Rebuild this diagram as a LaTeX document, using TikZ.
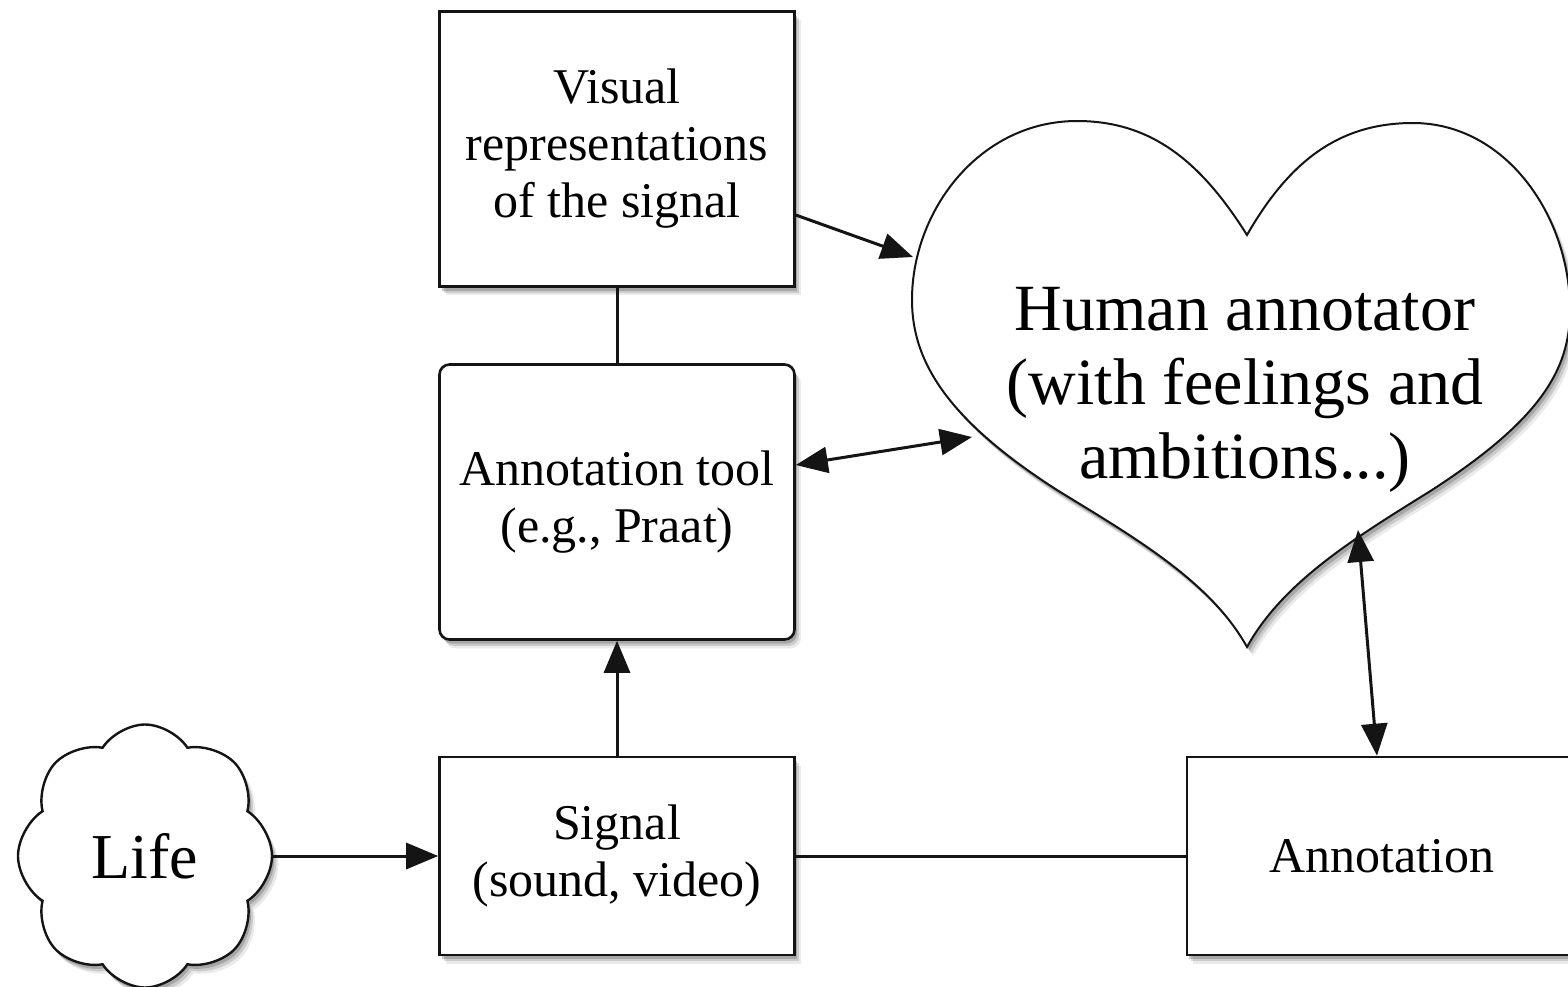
\documentclass[tikz,border=0pt]{standalone}
\usepackage{fontspec}
\setmainfont{Liberation Serif}
\usepackage{tikz}
\usetikzlibrary{shapes.symbols, arrows.meta, positioning, shadows}
\definecolor{FlowInk}{RGB}{20, 20, 20}
\definecolor{FlowShade}{RGB}{80, 80, 80}

\tikzset{
  softshadow/.style={
    drop shadow={shadow xshift=1.6pt, shadow yshift=-2.2pt, opacity=0.12, fill=FlowShade},
    drop shadow={shadow xshift=1.1pt, shadow yshift=-1.6pt, opacity=0.2, fill=FlowShade},
    drop shadow={shadow xshift=0.6pt, shadow yshift=-1pt, opacity=0.3, fill=FlowShade}},
  flowbox/.style={draw=FlowInk, fill=white, line width=0.65pt, minimum width=88.75pt,
    align=center, inner sep=2pt, softshadow, font=\fontsize{12.5}{14.25}\selectfont},
  link/.style={draw=FlowInk, line width=0.75pt},
  arrowend/.style={link, -{Triangle[length=8pt, width=6.5pt]}},
  arrowboth/.style={link, {Triangle[length=8pt, width=6.5pt]}-{Triangle[length=8pt, width=6.5pt]}}
}

\begin{document}
\begin{tikzpicture}[x=0.25pt, y=-0.25pt]
    \useasboundingbox (0,0) rectangle (1568,987);

    % heart
    \draw[draw=FlowInk, fill=white, line width=0.5pt, softshadow]
      (1247,235) .. controls (1200,160) and (1150,121) .. (1077,121)
      .. controls (980,121) and (912,210) .. (912,300)
      .. controls (912,362) and (948,420) .. (1057,490)
      .. controls (1130,535) and (1210,580) .. (1247,647)
      .. controls (1284,580) and (1360,535) .. (1432,490)
      .. controls (1540,420) and (1570,370) .. (1570,310)
      .. controls (1570,215) and (1505,123) .. (1413,123)
      .. controls (1340,123) and (1290,160) .. (1247,235) -- cycle;
    \node[align=center, font=\fontsize{16.5}{18.5}\selectfont] (human) at (1245,390)
      {Human annotator\\(with feelings and\\ambitions...)};
    \coordinate (hvis) at (913,257);
    \coordinate (htool) at (972,437);
    \coordinate (hann) at (1358,530);

    % boxes
    \node[flowbox, minimum height=68.75pt] (visual) at (617,149)
      {Visual\\representations\\of the signal};
    \node[flowbox, minimum height=68.75pt, rounded corners=2.5pt] (tool) at (617,502)
      {Annotation tool\\(e.g., Praat)};
    \node[flowbox, minimum height=49.5pt] (signal) at (617,856)
      {Signal\\(sound, video)};
    \node[flowbox, minimum height=49.5pt, minimum width=97.5pt] (annot) at (1382,856)
      {Annotation};
    \node[cloud, cloud puffs=8, cloud puff arc=115, aspect=1, draw=FlowInk, fill=white,
      line width=0.6pt, minimum width=63.5pt, minimum height=65.75pt, inner sep=0pt,
      font=\fontsize{16}{18}\selectfont, softshadow] (life) at (145,856) {Life};

    % connectors
    \draw[arrowend] ([yshift=-16.5pt]visual.east) -- (hvis);
    \draw[arrowboth] ([yshift=9.25pt]tool.east) -- (htool);
    \draw[link] (visual.south) -- (tool.north);
    \draw[arrowend] (signal.north) -- (tool.south);
    \draw[arrowend] (life.east) -- (signal.west);
    \draw[link] (signal.east) -- (annot.west);
    \draw[arrowboth] ([xshift=-1.25pt]annot.north) -- (hann);
\end{tikzpicture}
\end{document}
